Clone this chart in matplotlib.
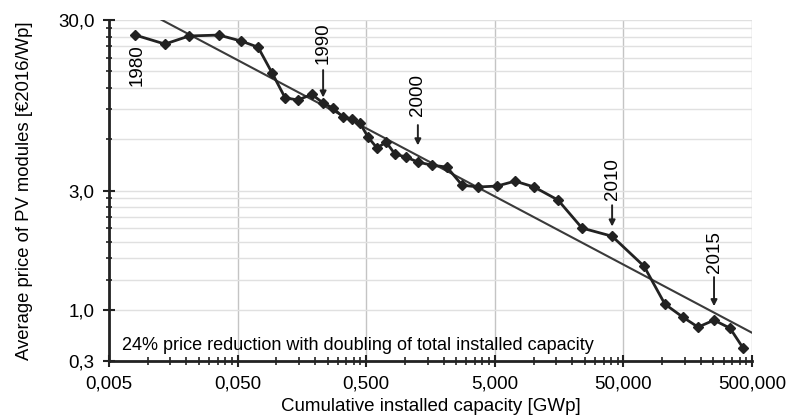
import matplotlib
matplotlib.use("Agg")
from matplotlib import pyplot as plt
from matplotlib.ticker import FixedLocator, NullFormatter
import numpy as np

plt.rcParams['font.family'] = ['Liberation Sans', 'DejaVu Sans']

# cumulative installed capacity [GWp], one point per year from 1980
capacity = [0.0080, 0.0136, 0.0210, 0.0358, 0.0532, 0.0721, 0.0926, 0.117,
            0.147, 0.189, 0.231, 0.276, 0.330, 0.388, 0.447, 0.516, 0.607,
            0.713, 0.837, 1.02, 1.26, 1.62, 2.12, 2.78, 3.70, 5.20, 7.18,
            10.1, 15.5, 23.8, 40.8, 72.3, 105, 145, 190, 253, 337, 426]
# average module price [EUR2016/Wp]
price = [24.5, 21.7, 24.2, 24.5, 22.6, 20.8, 14.7, 10.5, 10.2, 11.0, 9.78,
         9.14, 8.10, 7.88, 7.46, 6.18, 5.33, 5.78, 4.91, 4.72, 4.41, 4.23,
         4.12, 3.23, 3.15, 3.19, 3.41, 3.15, 2.64, 1.81, 1.62, 1.08, 0.648,
         0.543, 0.475, 0.522, 0.468, 0.358]
first_year = 1980
marked_years = [1990, 2000, 2010, 2015]

# learning curve fit (24 % per doubling)
trend_x = [0.0125, 500]
trend_y = [30.4, 0.44]

x_ticks = [0.005, 0.05, 0.5, 5, 50, 500]
x_labels = ['0,005', '0,050', '0,500', '5,000', '50,000', '500,000']
y_ticks = [0.3, 0.6, 3, 30]
y_labels = ['0,3', '1,0', '3,0', '30,0']

fig = plt.figure(figsize=(7.9, 4.18), dpi=100)
ax = fig.add_axes([0.138, 0.136, 0.814, 0.816])
ax.set_xscale('log')
ax.set_yscale('log')
ax.set_xlim(0.005, 500)
ax.set_ylim(0.3, 30)

# minor ticks: 2..9 times each decade start
x_minor = [b * m for b in x_ticks[:-1] for m in range(2, 10)]
y_minor = [b * m for b in [0.3, 3] for m in range(2, 10)]
ax.xaxis.set_major_locator(FixedLocator(x_ticks))
ax.xaxis.set_minor_locator(FixedLocator(x_minor))
ax.yaxis.set_major_locator(FixedLocator(y_ticks))
ax.yaxis.set_minor_locator(FixedLocator(y_minor))
ax.set_xticklabels(x_labels)
ax.set_yticklabels(y_labels)
ax.xaxis.set_minor_formatter(NullFormatter())
ax.yaxis.set_minor_formatter(NullFormatter())

ax.grid(True, which='major', axis='x', color='#c4c4c4', lw=1)
ax.grid(True, which='minor', axis='y', color='#e0e0e0', lw=1)
ax.grid(True, which='major', axis='y', color='#e0e0e0', lw=1)

for s in ['top', 'right']:
    ax.spines[s].set_visible(False)
for s in ['left', 'bottom']:
    ax.spines[s].set_linewidth(2)
    ax.spines[s].set_color('#222222')

ax.tick_params(which='major', direction='inout', length=9, width=1.5,
               labelsize=13.5, pad=6, color='#222222')
ax.tick_params(which='minor', direction='inout', length=6, width=1.2,
               color='#222222')
ax.tick_params(axis='y', which='minor', length=5)

ax.plot(trend_x, trend_y, color='#3a3a3a', lw=1.5, zorder=3)
ax.plot(capacity, price, color='#222222', lw=2, marker='D', ms=5.5,
        zorder=4)

px = 72 / 100  # pixel -> points

# 1980 label below first point
ax.annotate(str(first_year), xy=(capacity[0], price[0]),
            xytext=(2 * px, -9 * px), textcoords='offset points',
            rotation=90, ha='center', va='top', fontsize=13.5)

# arrows: (tip offset, tail offset, text offset) in pixels above the point
offsets = {1990: (4, 33, 39), 2000: (12, 37, 46), 2010: (7, 31, 36),
           2015: (10, 43, 47)}
for yr in marked_years:
    i = yr - first_year
    tip, tail, txt = offsets[yr]
    ax.annotate('', xy=(capacity[i], price[i]), xytext=(0, tail * px),
                textcoords='offset points',
                arrowprops=dict(arrowstyle='-|>', color='#222222', lw=1.4,
                                mutation_scale=9, shrinkA=0,
                                shrinkB=tip))
    ax.annotate(str(yr), xy=(capacity[i], price[i]),
                xytext=(0, txt * px), textcoords='offset points',
                rotation=90, ha='center', va='bottom', fontsize=13.5)

ax.text(0.0063, 0.37,
        '24% price reduction with doubling of total installed capacity',
        fontsize=13, va='center', ha='left')

ax.set_xlabel('Cumulative installed capacity [GWp]', fontsize=13.5,
              labelpad=4)
ax.set_ylabel('Average price of PV modules [€2016/Wp]', fontsize=13.3,
              labelpad=18)

fig.savefig('out.png', dpi=100)
